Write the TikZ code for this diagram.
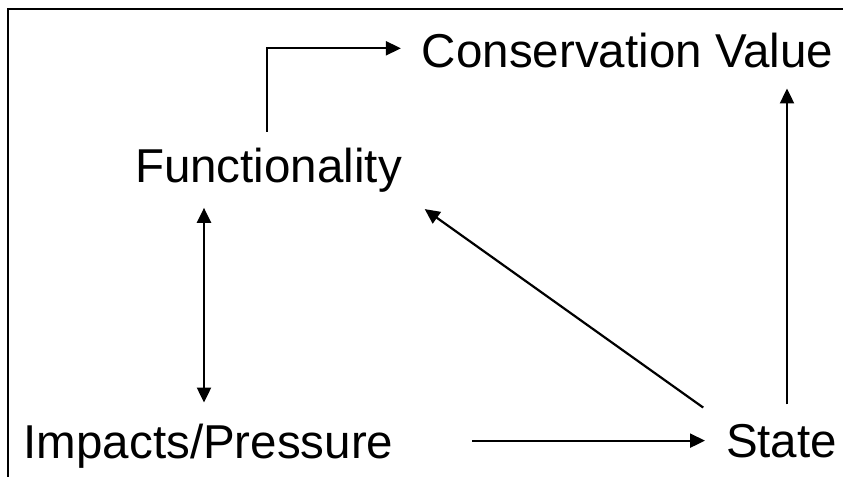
\documentclass[tikz,border=0pt]{standalone}
\usepackage{fontspec}
\setmainfont{Liberation Sans}
\usetikzlibrary{arrows.meta}
\begin{document}
\begin{tikzpicture}[x=1bp,y=-1bp,
  label text/.style={inner sep=0pt, outer sep=0pt, anchor=base,
    font=\fontsize{47.7pt}{57pt}\selectfont},
  link/.style={line width=2.2bp, -{Triangle[length=15bp,width=14bp]}},
  twoway/.style={line width=2.2bp, {Triangle[length=15bp,width=14bp]}-{Triangle[length=15bp,width=14bp]}},
  frame line/.style={line width=2.4bp}]
\useasboundingbox (0,0) rectangle (843,477);

% open frame along the left and top edges
\draw[frame line] (8,477) -- (8,9) -- (843,9);

% labels
\node[label text] (cons)  at (627.5,68)  {Conservation Value};
\node[label text] (func)  at (268.5,183) {Functionality};
\node[label text] (imp)   at (208.5,458) {Impacts/Pressure};
\node[label text] (state) at (781.5,457) {State};

% Functionality feeds Conservation Value via an elbow
\draw[link, shorten <=17bp, shorten >=21bp]
  ([xshift=-1.5bp]func.north) |- ([yshift=2.7bp]cons.west);

% Functionality <-> Impacts/Pressure
\draw[twoway, shorten <=21bp, shorten >=15bp]
  ([xshift=-4.5bp]imp.north) -- ([xshift=-4.5bp]imp.north |- func.south);

% Impacts/Pressure -> State
\draw[link, shorten <=79bp, shorten >=21bp]
  (imp.east |- state.west) -- (state.west);

% State -> Functionality
\draw[link, shorten <=28bp, shorten >=28bp]
  (state.north west) -- (func.south east);

% State -> Conservation Value
\draw[link, shorten <=19.5bp, shorten >=20bp]
  ([xshift=5.5bp]state.north) -- ([xshift=5.5bp]state.north |- cons.south);
\end{tikzpicture}
\end{document}
